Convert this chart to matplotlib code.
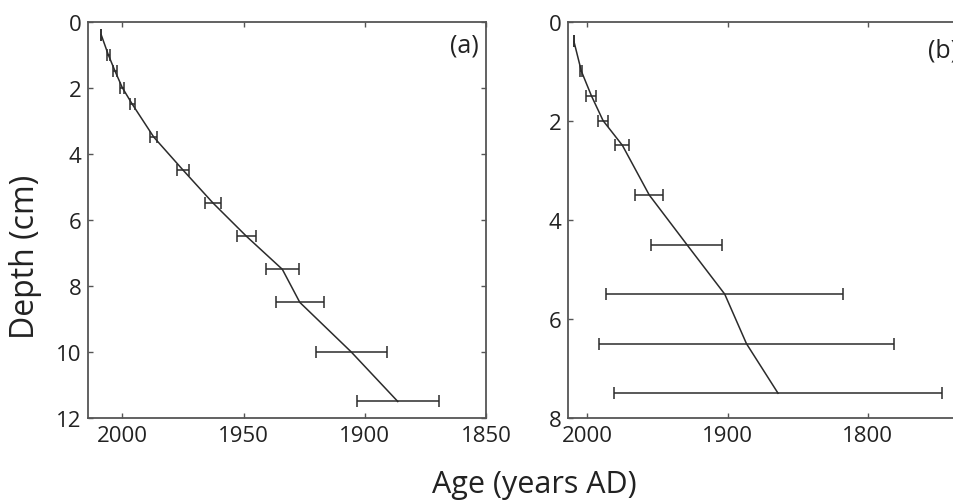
import matplotlib
matplotlib.use("Agg")
from matplotlib import pyplot as plt

plt.rcParams['font.family'] = ['Open Sans', 'DejaVu Sans']

# Core (a): depth (cm), age (years AD), age error (years)
depth_a = [0.4, 1, 1.5, 2, 2.5, 3.5, 4.5, 5.5, 6.5, 7.5, 8.5, 10, 11.5]
age_a = [2008.7, 2005.8, 2003, 2000, 1995.9, 1987, 1974.9, 1962.5, 1948.8, 1934, 1926.8, 1905.6, 1886.4]
err_a = [0, 0.7, 0.8, 0.9, 1.1, 1.5, 2.6, 3.2, 4.0, 6.9, 9.8, 14.7, 16.9]

# Core (b)
depth_b = [0.4, 1, 1.5, 2, 2.5, 3.5, 4.5, 5.5, 6.5, 7.5]
age_b = [2009.5, 2004.2, 1997, 1988.7, 1974.9, 1955.8, 1929, 1902, 1886.5, 1864]
err_b = [0, 0.8, 3.6, 3.6, 5, 9.9, 25.4, 84.5, 105, 117]

ticks_a = [2000, 1950, 1900, 1850]
ticks_b = [2000, 1900, 1800]

line_col = '#2b2b2b'
spine_col = '#555555'

fig = plt.figure(figsize=(9.54, 5.02), dpi=100)
ax_a = fig.add_axes([0.0926, 0.1653, 0.4169, 0.7898])
ax_b = fig.add_axes([0.5957, 0.1653, 0.4169, 0.7898])


def style_axis(ax, ages, depths, errs, xlim, ylim, xticks, yticks):
    ax.errorbar(ages, depths, xerr=errs,
                color=line_col, ecolor=line_col, lw=1.1, elinewidth=1.1,
                capsize=4.5, capthick=1.1)
    ax.set_xlim(*xlim)
    ax.set_ylim(*ylim)
    ax.set_xticks(xticks)
    ax.set_yticks(yticks)
    ax.tick_params(direction='in', length=3.5, width=1.0, color=spine_col,
                   top=True, right=True, labelsize=16, pad=5, labelcolor='#222222')
    for s in ax.spines.values():
        s.set_color(spine_col)
        s.set_linewidth(1.3)


style_axis(ax_a, age_a, depth_a, err_a, (2014, 1850), (12, 0), ticks_a, range(0, 13, 2))
style_axis(ax_b, age_b, depth_b, err_b, (2013.5, 1730), (8, 0), ticks_b, range(0, 9, 2))

ax_a.text(0.982, 0.941, '(a)', transform=ax_a.transAxes, ha='right', va='center',
          fontsize=18, color='#222222')
ax_b.text(0.9045, 0.929, '(b)', transform=ax_b.transAxes, ha='left', va='center',
          fontsize=18, color='#222222')

fig.text(534 / 954, 0.018, 'Age (years AD)', ha='center', va='baseline',
         fontsize=22, color='#222222')
fig.text(0.027, 1 - 257 / 502, 'Depth (cm)', ha='center', va='center',
         rotation=90, fontsize=23, color='#222222')

fig.savefig('out.png', dpi=100)
